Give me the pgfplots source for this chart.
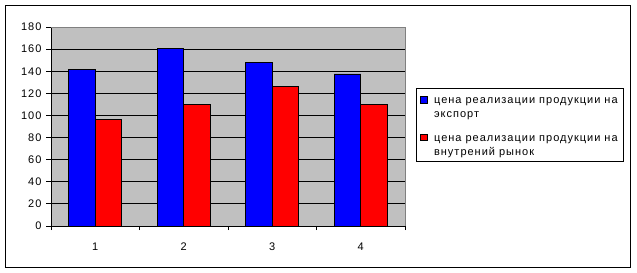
\documentclass[border=0pt]{standalone}
\usepackage{fontspec}
\setmainfont{Liberation Sans}[LetterSpace=9]
\usepackage{pgfplots}
\pgfplotsset{compat=1.18}
\definecolor{silver}{HTML}{C0C0C0}
\definecolor{bordergray}{HTML}{808080}
\definecolor{xlblue}{HTML}{0000FF}
\definecolor{xlred}{HTML}{FF0000}
\begin{document}
\begin{tikzpicture}[x=1pt,y=1pt]
\useasboundingbox (0,0) rectangle (637,273);
\draw[black, line width=0.9pt] (5.5,5.5) rectangle (630.5,267.5);
\begin{axis}[
  at={(51pt,47pt)}, anchor=south west,
  scale only axis, width=354pt, height=199pt,
  xmin=0.5, xmax=4.5, ymin=0, ymax=180,
  ybar=0pt, bar width=0.3,
  ytick={0,20,...,180},
  xtick={1,2,3,4},
  minor xtick={0.5,1.5,2.5,3.5,4.5},
  major x tick style={draw=none},
  minor tick length=4pt, major tick length=5pt,
  tick align=outside,
  tick style={black, line width=0.8pt},
  ymajorgrids, grid style={black, line width=0.8pt},
  axis x line*=bottom, axis y line*=left,
  axis line style={black, line width=0.8pt},
  axis background/.style={fill=silver},
  /pgf/number format/assume math mode=true,
  tick label style={font=\fontsize{11}{13}\selectfont},
  yticklabel style={xshift=-1pt},
  xticklabel style={yshift=-8pt},
  legend style={at={(axis description cs:1.0311,0.693)}, anchor=north west,
    draw=black, line width=0.8pt, font=\fontsize{11}{14}\selectfont,
    cells={anchor=base west, align=left}, nodes={inner sep=2pt},
    row sep=8.4pt, inner xsep=3pt, inner ysep=2.7pt, column sep=5pt},
  legend image code/.code={\path (0pt,0pt) (0pt,25.6pt); \draw[#1, draw=black, line width=0.6pt] (0pt,14.3pt) rectangle (7pt,20.6pt);},
  after end axis/.code={\draw[bordergray, line width=0.8pt] (rel axis cs:0,1) -- (rel axis cs:1,1) -- (rel axis cs:1,0);},
]
\addplot[fill=xlblue, draw=black, line width=0.8pt] coordinates {(1,142) (2,161) (3,148) (4,137.5)};
\addplot[fill=xlred, draw=black, line width=0.8pt] coordinates {(1,96) (2,110) (3,126) (4,110)};
\legend{цена реализации продукции на\hspace*{1pt}\\экспорт, цена реализации продукции на\hspace*{1pt}\\внутрений рынок}
\end{axis}
\end{tikzpicture}
\end{document}
